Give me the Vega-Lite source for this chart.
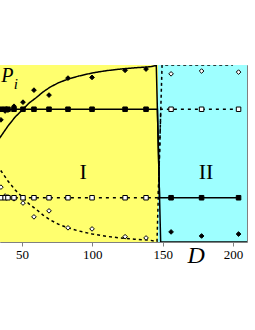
{
  "$schema": "https://vega.github.io/schema/vega-lite/v6.json",
  "width": 247,
  "height": 177,
  "autosize": {"type": "none"},
  "padding": {"left": 0, "top": 65, "right": 8, "bottom": 88},
  "background": "white",
  "config": {"view": {"stroke": "#808080", "strokeWidth": 1}},
  "datasets": {
    "regions": [
      {"D1": 30, "D2": 146.7, "r": "I"},
      {"D1": 146.7, "D2": 212, "r": "II"}
    ],
    "curves": [
      {"D": 30, "P": 0.54, "s": "fitA"}, {"D": 34.35, "P": 0.59, "s": "fitA"}, {"D": 40, "P": 0.655, "s": "fitA"},
      {"D": 45, "P": 0.705, "s": "fitA"}, {"D": 50.7, "P": 0.75, "s": "fitA"}, {"D": 55, "P": 0.785, "s": "fitA"},
      {"D": 60, "P": 0.815, "s": "fitA"}, {"D": 65, "P": 0.848, "s": "fitA"}, {"D": 70, "P": 0.875, "s": "fitA"},
      {"D": 76, "P": 0.9, "s": "fitA"}, {"D": 82, "P": 0.918, "s": "fitA"}, {"D": 90, "P": 0.937, "s": "fitA"},
      {"D": 100, "P": 0.955, "s": "fitA"}, {"D": 110, "P": 0.968, "s": "fitA"}, {"D": 120, "P": 0.977, "s": "fitA"},
      {"D": 130, "P": 0.984, "s": "fitA"}, {"D": 141, "P": 0.99, "s": "fitA"}, {"D": 145.5, "P": 0.997, "s": "fitA"},
      {"D": 148.6, "P": 0, "s": "fitA"}, {"D": 212, "P": 0, "s": "fitA"},
      {"D": 30, "P": 0.46, "s": "fitB"}, {"D": 34.35, "P": 0.41, "s": "fitB"}, {"D": 40, "P": 0.345, "s": "fitB"},
      {"D": 45, "P": 0.295, "s": "fitB"}, {"D": 50.7, "P": 0.25, "s": "fitB"}, {"D": 55, "P": 0.215, "s": "fitB"},
      {"D": 60, "P": 0.185, "s": "fitB"}, {"D": 65, "P": 0.152, "s": "fitB"}, {"D": 70, "P": 0.125, "s": "fitB"},
      {"D": 76, "P": 0.1, "s": "fitB"}, {"D": 82, "P": 0.082, "s": "fitB"}, {"D": 90, "P": 0.063, "s": "fitB"},
      {"D": 100, "P": 0.045, "s": "fitB"}, {"D": 110, "P": 0.032, "s": "fitB"}, {"D": 120, "P": 0.023, "s": "fitB"},
      {"D": 130, "P": 0.016, "s": "fitB"}, {"D": 141, "P": 0.01, "s": "fitB"}, {"D": 146, "P": 0.003, "s": "fitB"},
      {"D": 149.6, "P": 1, "s": "fitB"}, {"D": 200, "P": 1, "s": "fitB"},
      {"D": 30, "P": 0.75, "s": "sqA"}, {"D": 146.3, "P": 0.75, "s": "sqA"}, {"D": 147.8, "P": 0.25, "s": "sqA"}, {"D": 204, "P": 0.25, "s": "sqA"},
      {"D": 30, "P": 0.25, "s": "sqB"}, {"D": 146.9, "P": 0.25, "s": "sqB"}, {"D": 148.7, "P": 0.75, "s": "sqB"}, {"D": 204, "P": 0.75, "s": "sqB"}
    ],
    "points": [
      {"D": 35, "P": 0.69, "k": "fd"}, {"D": 38, "P": 0.74, "k": "fd"}, {"D": 40, "P": 0.745, "k": "fd"},
      {"D": 44.3, "P": 0.767, "k": "fd"}, {"D": 50.7, "P": 0.79, "k": "fd"}, {"D": 58.5, "P": 0.858, "k": "fd"},
      {"D": 69.2, "P": 0.83, "k": "fd"}, {"D": 82.7, "P": 0.926, "k": "fd"}, {"D": 99.8, "P": 0.93, "k": "fd"},
      {"D": 123.3, "P": 0.97, "k": "fd"}, {"D": 138.2, "P": 0.977, "k": "fd"},
      {"D": 156, "P": 0.057, "k": "fd"}, {"D": 177.7, "P": 0.034, "k": "fd"}, {"D": 204, "P": 0.045, "k": "fd"},
      {"D": 35, "P": 0.31, "k": "od"}, {"D": 38, "P": 0.26, "k": "od"}, {"D": 40, "P": 0.255, "k": "od"},
      {"D": 44.3, "P": 0.244, "k": "od"}, {"D": 50.7, "P": 0.22, "k": "od"}, {"D": 58.5, "P": 0.142, "k": "od"},
      {"D": 69.2, "P": 0.176, "k": "od"}, {"D": 82.7, "P": 0.08, "k": "od"}, {"D": 99.8, "P": 0.074, "k": "od"},
      {"D": 123.3, "P": 0.03, "k": "od"}, {"D": 138.2, "P": 0.023, "k": "od"},
      {"D": 156, "P": 0.95, "k": "od"}, {"D": 177.7, "P": 0.966, "k": "od"}, {"D": 204, "P": 0.96, "k": "od"},
      {"D": 35, "P": 0.75, "k": "fs"}, {"D": 38, "P": 0.75, "k": "fs"}, {"D": 40, "P": 0.75, "k": "fs"},
      {"D": 44.3, "P": 0.75, "k": "fs"}, {"D": 50.7, "P": 0.75, "k": "fs"}, {"D": 58.5, "P": 0.75, "k": "fs"},
      {"D": 69.2, "P": 0.75, "k": "fs"}, {"D": 82.7, "P": 0.75, "k": "fs"}, {"D": 99.8, "P": 0.75, "k": "fs"},
      {"D": 123.3, "P": 0.75, "k": "fs"}, {"D": 138.2, "P": 0.75, "k": "fs"},
      {"D": 156, "P": 0.25, "k": "fs"}, {"D": 177.7, "P": 0.25, "k": "fs"}, {"D": 204, "P": 0.25, "k": "fs"},
      {"D": 35, "P": 0.25, "k": "os"}, {"D": 38, "P": 0.25, "k": "os"}, {"D": 40, "P": 0.25, "k": "os"},
      {"D": 44.3, "P": 0.25, "k": "os"}, {"D": 50.7, "P": 0.25, "k": "os"}, {"D": 58.5, "P": 0.25, "k": "os"},
      {"D": 69.2, "P": 0.25, "k": "os"}, {"D": 82.7, "P": 0.25, "k": "os"}, {"D": 99.8, "P": 0.25, "k": "os"},
      {"D": 123.3, "P": 0.25, "k": "os"}, {"D": 138.2, "P": 0.25, "k": "os"},
      {"D": 156, "P": 0.75, "k": "os"}, {"D": 177.7, "P": 0.75, "k": "os"}, {"D": 204, "P": 0.75, "k": "os"}
    ],
    "uprightLabels": [
      {"D": 93.4, "P": 0.395, "t": "I"},
      {"D": 180.9, "P": 0.395, "t": "II"}
    ],
    "italicLabels": [
      {"D": 173.8, "P": -0.078, "t": "D", "sz": 24},
      {"D": 39.6, "P": 0.94, "t": "P", "sz": 20},
      {"D": 45.6, "P": 0.895, "t": "i", "sz": 15}
    ]
  },
  "layer": [
    {
      "data": {"name": "regions"},
      "mark": {"type": "rect", "clip": true},
      "encoding": {
        "x": {"field": "D1", "type": "quantitative", "scale": {"domain": [34.35, 210], "nice": false, "zero": false},
              "axis": {"values": [50, 100, 150, 200], "title": null, "grid": false, "domain": false, "ticks": true,
                       "tickSize": 4, "tickColor": "#808080", "labelPadding": 2, "labelFont": "Liberation Serif",
                       "labelFontSize": 13, "labelColor": "black"}},
        "x2": {"field": "D2"},
        "y": {"datum": 0, "type": "quantitative", "scale": {"domain": [0, 1], "nice": false}, "axis": null},
        "y2": {"datum": 1},
        "color": {"field": "r", "type": "nominal", "scale": {"domain": ["I", "II"], "range": ["#FFFF6E", "#9EFFFF"]}, "legend": null}
      }
    },
    {
      "data": {"name": "curves"},
      "mark": {"type": "line", "clip": true, "color": "black", "strokeWidth": 1.5},
      "encoding": {
        "x": {"field": "D", "type": "quantitative"},
        "y": {"field": "P", "type": "quantitative"},
        "detail": {"field": "s"},
        "strokeDash": {"field": "s", "type": "nominal",
                       "scale": {"domain": ["fitA", "fitB", "sqA", "sqB"], "range": [[1, 0], [3, 3], [1, 0], [3, 4]]},
                       "legend": null}
      }
    },
    {
      "data": {"name": "points"},
      "mark": {"type": "point", "filled": false, "clip": true, "stroke": "black", "strokeWidth": 1, "opacity": 1},
      "encoding": {
        "x": {"field": "D", "type": "quantitative"},
        "y": {"field": "P", "type": "quantitative"},
        "shape": {"field": "k", "type": "nominal", "scale": {"domain": ["fd", "od", "fs", "os"], "range": ["diamond", "diamond", "square", "square"]}, "legend": null},
        "fill": {"field": "k", "type": "nominal", "scale": {"domain": ["fd", "od", "fs", "os"], "range": ["black", "white", "black", "white"]}, "legend": null},
        "size": {"field": "k", "type": "nominal", "scale": {"domain": ["fd", "od", "fs", "os"], "range": [22, 20, 28, 34]}, "legend": null}
      }
    },
    {
      "data": {"name": "uprightLabels"},
      "mark": {"type": "text", "font": "Liberation Serif", "fontSize": 22, "color": "black", "baseline": "middle", "align": "center"},
      "encoding": {
        "x": {"field": "D", "type": "quantitative"},
        "y": {"field": "P", "type": "quantitative"},
        "text": {"field": "t"}
      }
    },
    {
      "data": {"name": "italicLabels"},
      "mark": {"type": "text", "font": "Liberation Serif", "fontStyle": "italic", "color": "black", "baseline": "middle", "align": "center"},
      "encoding": {
        "x": {"field": "D", "type": "quantitative"},
        "y": {"field": "P", "type": "quantitative"},
        "text": {"field": "t"},
        "size": {"field": "sz", "type": "quantitative", "scale": null}
      }
    }
  ]
}
